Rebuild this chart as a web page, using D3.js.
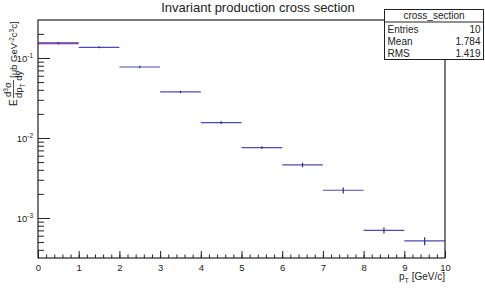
<!DOCTYPE html>
<html>
<head>
<meta charset="utf-8">
<script src="https://cdn.jsdelivr.net/npm/d3@7"></script>
<style>
  body { margin: 0; background: #fff; }
  svg { font-family: "Liberation Sans", Arial, sans-serif; }
</style>
</head>
<body>
<svg id="chart" width="485" height="288"></svg>
<script>
// bins of p_T [GeV/c]
let binLow = [0, 1, 2, 3, 4, 5, 6, 7, 8, 9];
let binHigh = [1, 2, 3, 4, 5, 6, 7, 8, 9, 10];
let crossSection = [0.153, 0.136, 0.0772, 0.0376, 0.01555, 0.00757, 0.0046, 0.00222, 0.00070, 0.000516];
let crossErr = [0.005, 0.004, 0.0025, 0.0013, 0.0006, 0.0003, 0.0003, 0.00019, 0.00006, 0.00006];
let xTicks = [0, 1, 2, 3, 4, 5, 6, 7, 8, 9, 10];
let yDecades = [0.001, 0.01, 0.1];
let yExponents = ["-3", "-2", "-1"];
let statNames = ["Entries", "Mean", "RMS"];
let statValues = ["10", "1.784", "1.419"];

function render() {
    let svg = d3.select("#chart");
    let margin = { top: 20, right: 40, bottom: 30, left: 38 };
    let width = 485 - margin.left - margin.right;
    let height = 288 - margin.top - margin.bottom;

    let xScale = d3.scaleLinear().domain([0, 10]).range([0, width]);
    let yScale = d3.scaleLog().domain([0.000316, 0.2985]).range([height, 0]);

    let g = svg.append("g")
        .attr("transform", "translate(" + margin.left + "," + margin.top + ")");

    // minor ticks
    let xMinor = d3.range(0, 10.001, 0.2);
    g.append("g")
        .attr("transform", "translate(0," + height + ")")
        .call(d3.axisBottom(xScale).tickValues(xMinor).tickSize(-3.5).tickFormat(""))
        .call(a => a.select(".domain").remove());

    let yMinor = [];
    [0.0001, 0.001, 0.01, 0.1].forEach(d => {
        for (let k = 2; k <= 9; k++) {
            let v = d * k;
            if (v > 0.000316 && v < 0.2985) yMinor.push(v);
        }
    });
    g.append("g")
        .call(d3.axisLeft(yScale).tickValues(yMinor).tickSize(-6).tickFormat(""))
        .call(a => a.select(".domain").remove());

    // major ticks
    let xAxis = g.append("g")
        .attr("transform", "translate(0," + height + ")")
        .call(d3.axisBottom(xScale).tickValues(xTicks).tickSize(-7).tickPadding(6).tickFormat(d3.format("d")));
    xAxis.select(".domain").remove();
    xAxis.selectAll("text").attr("font-size", "9.5px").attr("fill", "#222");

    let yAxis = g.append("g")
        .call(d3.axisLeft(yScale).tickValues(yDecades).tickSize(-12).tickFormat(""));
    yAxis.select(".domain").remove();

    g.selectAll(".tick line").attr("stroke", "#222");

    // decade labels 10^n
    let ylab = g.selectAll(".ylab")
        .data(yDecades)
        .enter()
        .append("text")
        .attr("class", "ylab")
        .attr("x", -5)
        .attr("y", d => yScale(d) + 4)
        .attr("text-anchor", "end")
        .attr("font-size", "9.5px")
        .attr("fill", "#222");
    ylab.append("tspan").text("10");
    ylab.append("tspan").attr("dy", -4).attr("font-size", "6.5px").text((d, i) => yExponents[i]);

    // horizontal bin lines
    g.append("line")
        .attr("x1", xScale(binLow[0]))
        .attr("x2", xScale(binHigh[0]))
        .attr("y1", yScale(crossSection[0]))
        .attr("y2", yScale(crossSection[0]))
        .attr("stroke", "#d47ac6")
        .attr("stroke-width", 2.5);

    g.selectAll(".hbar")
        .data(crossSection)
        .enter()
        .append("line")
        .attr("class", "hbar")
        .attr("x1", (d, i) => xScale(binLow[i]))
        .attr("x2", (d, i) => xScale(binHigh[i]))
        .attr("y1", d => yScale(d))
        .attr("y2", d => yScale(d))
        .attr("stroke", "#4b4bb4")
        .attr("stroke-width", 1.2);

    g.selectAll(".vbar")
        .data(crossSection)
        .enter()
        .append("line")
        .attr("class", "vbar")
        .attr("x1", (d, i) => xScale((binLow[i] + binHigh[i]) / 2))
        .attr("x2", (d, i) => xScale((binLow[i] + binHigh[i]) / 2))
        .attr("y1", (d, i) => yScale(d + crossErr[i]))
        .attr("y2", (d, i) => yScale(d - crossErr[i]))
        .attr("stroke", "#2a2a8c")
        .attr("stroke-width", 1.2);

    // frame
    g.append("rect")
        .attr("x", 0)
        .attr("y", 0)
        .attr("width", width)
        .attr("height", height)
        .attr("fill", "none")
        .attr("stroke", "#222")
        .attr("stroke-width", 1.2);

    // title
    svg.append("text")
        .attr("x", 258)
        .attr("y", 12)
        .attr("text-anchor", "middle")
        .attr("font-size", "13px")
        .attr("fill", "#222")
        .text("Invariant production cross section");

    // x title
    let xt = svg.append("text")
        .attr("x", margin.left + width)
        .attr("y", 280)
        .attr("text-anchor", "end")
        .attr("font-size", "10px")
        .attr("fill", "#222");
    xt.append("tspan").text("p");
    xt.append("tspan").attr("dy", 3).attr("font-size", "7px").text("T");
    xt.append("tspan").attr("dy", -3).text("  [GeV/c]");

    // y title (rotated)
    let yt = svg.append("g").attr("transform", "translate(12,66) rotate(-90)");
    yt.append("text").attr("x", -40).attr("y", 5).attr("font-size", "10px").attr("fill", "#222").text("E");
    let num = yt.append("text").attr("x", -31).attr("y", -1).attr("font-size", "9.5px").attr("fill", "#222");
    num.append("tspan").text("d");
    num.append("tspan").attr("dy", -3).attr("font-size", "6.5px").text("3");
    num.append("tspan").attr("dy", 3).text("σ");
    yt.append("line").attr("x1", -32).attr("x2", -14).attr("y1", 1.5).attr("y2", 1.5)
        .attr("stroke", "#222").attr("stroke-width", 0.8);
    let den = yt.append("text").attr("x", -32).attr("y", 9.5).attr("font-size", "9.5px").attr("fill", "#222");
    den.append("tspan").text("dp");
    den.append("tspan").attr("dy", 3).attr("font-size", "6.5px").text("T");
    den.append("tspan").attr("dy", -3).text(" dy");
    let unit = yt.append("text").attr("x", -12).attr("y", 5).attr("font-size", "9.5px").attr("fill", "#222");
    unit.append("tspan").text("[μb GeV");
    unit.append("tspan").attr("dy", -3.5).attr("font-size", "6.5px").text("-2");
    unit.append("tspan").attr("dy", 3.5).text("c");
    unit.append("tspan").attr("dy", -3.5).attr("font-size", "6.5px").text("3");
    unit.append("tspan").attr("dy", 3.5).text("c]");

    // stats box
    let box = svg.append("g").attr("transform", "translate(384.5,9.5)");
    let bw = 99, bh = 50;
    box.append("rect").attr("width", bw).attr("height", bh)
        .attr("fill", "#fff").attr("stroke", "#222").attr("stroke-width", 1);
    box.append("line").attr("x1", 0).attr("x2", bw).attr("y1", 12.5).attr("y2", 12.5)
        .attr("stroke", "#222").attr("stroke-width", 1);
    box.append("text").attr("x", bw / 2).attr("y", 9.5).attr("text-anchor", "middle")
        .attr("font-size", "10px").attr("fill", "#222").text("cross_section");
    box.selectAll(".sname")
        .data(statNames)
        .enter()
        .append("text")
        .attr("x", 3)
        .attr("y", (d, i) => 23 + i * 12)
        .attr("font-size", "10px")
        .attr("fill", "#222")
        .text(d => d);
    box.selectAll(".sval")
        .data(statValues)
        .enter()
        .append("text")
        .attr("x", bw - 3)
        .attr("y", (d, i) => 23 + i * 12)
        .attr("text-anchor", "end")
        .attr("font-size", "10px")
        .attr("fill", "#222")
        .text(d => d);
}

render();
</script>
</body>
</html>
